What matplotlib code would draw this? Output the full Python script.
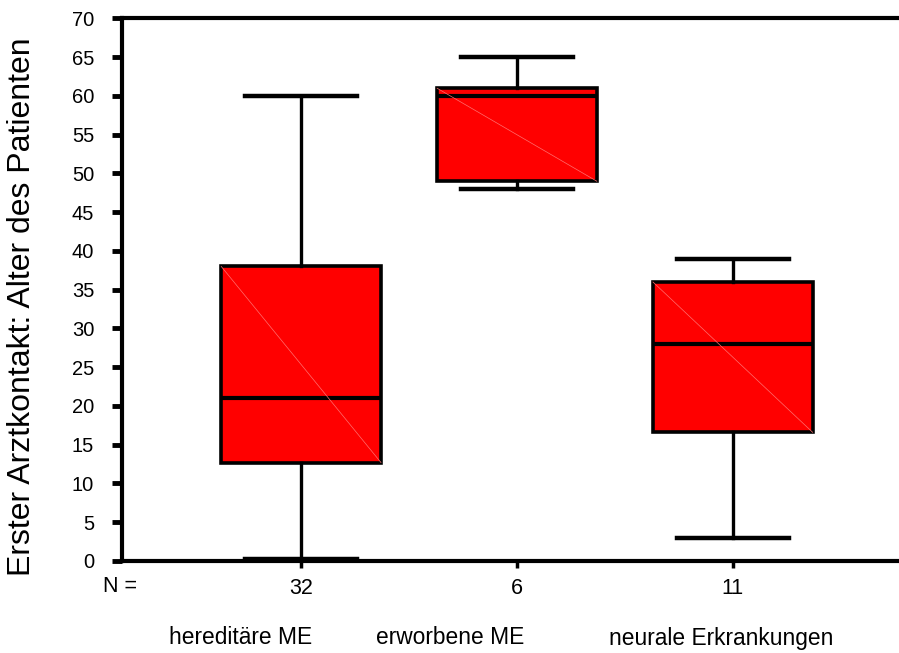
import matplotlib
matplotlib.use("Agg")
import matplotlib.pyplot as plt

plt.rcParams['font.family'] = ['Liberation Sans', 'DejaVu Sans']

# values
groups = ["hereditäre ME", "erworbene ME", "neurale Erkrankungen"]
counts = ["32", "6", "11"]
whislo = [0.2, 48, 3]
q1 = [12.7, 49, 16.6]
med = [21, 60, 28]
q3 = [38, 61, 36]
whishi = [60, 65, 39]
yticks = list(range(0, 75, 5))

stats = []
for i in range(len(groups)):
    stats.append({"whislo": whislo[i], "q1": q1[i], "med": med[i],
                  "q3": q3[i], "whishi": whishi[i], "fliers": []})

fig = plt.figure(figsize=(8.99, 6.53), dpi=100)
ax = fig.add_axes([0.1357, 0.1409, 0.8643, 0.8308])

pos = [1, 2, 3]
bw = 0.74
ax.bxp(stats, positions=pos, widths=bw, patch_artist=True, showfliers=False,
       boxprops=dict(facecolor="#ff0000", edgecolor="black", linewidth=2.6),
       medianprops=dict(color="black", linewidth=3),
       whiskerprops=dict(color="black", linewidth=2.4),
       capprops=dict(color="black", linewidth=3.2),
       capwidths=0.52)

# faint diagonal inside each box
for p, lo, hi in zip(pos, q1, q3):
    ax.plot([p - bw / 2, p + bw / 2], [hi, lo], color="#ff7070", lw=0.5, zorder=3)

ax.set_ylim(0, 70)
ax.set_xlim(1 - 0.83, 3 + 0.77)
ax.set_yticks(yticks)
ax.set_xticks(pos)
ax.set_xticklabels(counts, fontsize=15.5)
ax.tick_params(axis="y", direction="out", length=7, width=3.5, labelsize=14.5, pad=13)
ax.tick_params(axis="x", direction="out", length=5, width=2.5, pad=7)

for s in ["left", "top", "bottom"]:
    ax.spines[s].set_linewidth(3)
ax.spines["right"].set_visible(False)

ax.set_ylabel("Erster Arztkontakt: Alter des Patienten", fontsize=23, va="center")
ax.yaxis.set_label_coords(-0.129, 0.468)

fig.text(103 / 899, 1 - 587 / 653, "N =", fontsize=15.5, ha="left", va="center")
label_x = [241, 450, 721]
for g, x in zip(groups, label_x):
    fig.text(x / 899, 1 - 638 / 653, g, fontsize=16.4, ha="center", va="center")

fig.savefig("out.png", dpi=100)
